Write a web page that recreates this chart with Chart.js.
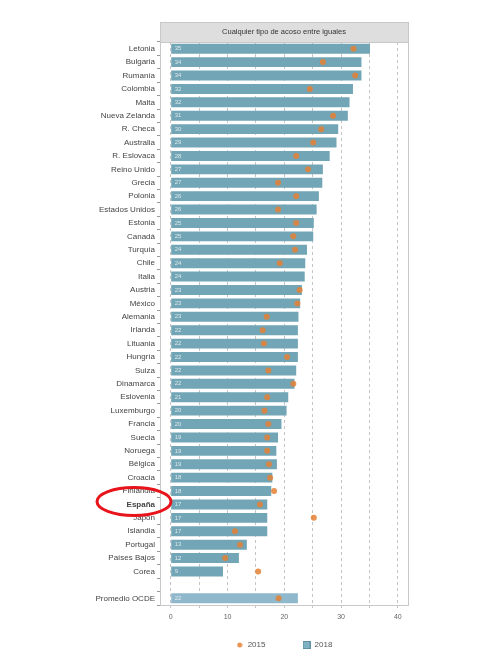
<!DOCTYPE html>
<html>
<head>
<meta charset="utf-8">
<script src="https://cdn.jsdelivr.net/npm/chart.js@4.4.0/dist/chart.umd.min.js"></script>
<style>
html, body { margin: 0; padding: 0; background: #fff; }
</style>
</head>
<body>
<canvas id="myChart" width="480" height="659"></canvas>
<script>
// datos
const paises = ["Letonia", "Bulgaria", "Rumanía", "Colombia", "Malta", "Nueva Zelanda", "R. Checa", "Australia",
    "R. Eslovaca", "Reino Unido", "Grecia", "Polonia", "Estados Unidos", "Estonia", "Canadá", "Turquía", "Chile",
    "Italia", "Austria", "México", "Alemania", "Irlanda", "Lituania", "Hungría", "Suiza", "Dinamarca", "Eslovenia",
    "Luxemburgo", "Francia", "Suecia", "Noruega", "Bélgica", "Croacia", "Finlandia", "España", "Japón", "Islandia",
    "Portugal", "Países Bajos", "Corea", "", "Promedio OCDE"];

const valores2018 = [35.1, 33.6, 33.6, 32.1, 31.5, 31.2, 29.5, 29.2, 28.0, 26.8, 26.7, 26.1, 25.7, 25.2, 25.1, 24.0,
    23.7, 23.6, 23.1, 22.8, 22.5, 22.4, 22.4, 22.4, 22.1, 21.8, 20.7, 20.4, 19.5, 18.9, 18.6, 18.7, 17.9, 17.7,
    17.0, 17.0, 17.0, 13.4, 12.0, 9.2, null, 22.4];

const valores2015 = [32.2, 26.8, 32.5, 24.5, null, 28.6, 26.5, 25.1, 22.1, 24.2, 18.9, 22.1, 18.9, 22.1, 21.6, 21.9,
    19.2, null, 22.7, 22.3, 16.9, 16.2, 16.4, 20.5, 17.2, 21.6, 17.0, 16.5, 17.2, 17.0, 17.0, 17.3, 17.5, 18.2,
    15.7, 25.2, 11.3, 12.2, 9.6, 15.4, null, 19.0];

const ticksX = [0, 5, 10, 15, 20, 25, 30, 35, 40];
const tituloPanel = "Cualquier tipo de acoso entre iguales";

const colorBarra = "#72a5b5";
const colorOCDE = "#8fb8cc";
const colorPunto = "rgba(228, 128, 52, 0.85)";

// símbolos pequeños para la leyenda
function simbolo(w, h, dibuja) {
    const c = document.createElement("canvas");
    c.width = w;
    c.height = h;
    dibuja(c.getContext("2d"));
    return c;
}
const simboloPunto = simbolo(6, 6, g => {
    g.fillStyle = colorPunto;
    g.beginPath();
    g.arc(3, 3, 2.5, 0, Math.PI * 2);
    g.fill();
});
const simboloBarra = simbolo(8, 8, g => {
    g.fillStyle = "#7fb0c4";
    g.fillRect(0, 0, 8, 8);
    g.strokeStyle = "#5f8fa3";
    g.strokeRect(0.5, 0.5, 7, 7);
});

// fondo, marco del panel y franja del título
const panelPlugin = {
    id: "panel",
    afterLayout(chart) {
        // leyenda centrada bajo el panel, no bajo todo el lienzo
        const a = chart.chartArea;
        const lg = chart.legend;
        const shift = (a.left + a.right) / 2 - (lg.left + lg.right) / 2;
        lg.left += shift;
        lg.right += shift;
    },
    beforeDraw(chart) {
        const { ctx } = chart;
        ctx.save();
        ctx.fillStyle = "#fff";
        ctx.fillRect(0, 0, chart.width, chart.height);
        ctx.restore();
    },
    afterDraw(chart) {
        const { ctx, chartArea: a } = chart;
        ctx.save();
        ctx.strokeStyle = "#c8c8c8";
        ctx.lineWidth = 1;
        ctx.strokeRect(a.left + 0.5, a.top + 0.5, a.right - a.left, a.bottom - a.top);
        // franja
        ctx.fillStyle = "#dedede";
        ctx.fillRect(a.left, a.top - 20, a.right - a.left, 20);
        ctx.strokeRect(a.left + 0.5, a.top - 19.5, a.right - a.left, 20);
        ctx.fillStyle = "#333";
        ctx.font = "7.5px 'Liberation Sans', Arial, sans-serif";
        ctx.textAlign = "center";
        ctx.textBaseline = "middle";
        ctx.fillText(tituloPanel, (a.left + a.right) / 2, a.top - 10);
        ctx.restore();
    }
};

// etiquetas blancas dentro de las barras
const etiquetasPlugin = {
    id: "etiquetas",
    afterDatasetsDraw(chart) {
        const { ctx } = chart;
        const meta = chart.getDatasetMeta(1);
        const x0 = chart.scales.x.getPixelForValue(0);
        ctx.save();
        ctx.fillStyle = "rgba(255,255,255,0.75)";
        ctx.font = "6px 'Liberation Sans', Arial, sans-serif";
        ctx.textBaseline = "middle";
        meta.data.forEach((bar, i) => {
            if (valores2018[i] == null) return;
            ctx.fillText(Math.round(valores2018[i]), x0 + 4, bar.y);
        });
        ctx.restore();
    }
};

// elipse roja alrededor de España
const elipsePlugin = {
    id: "elipse",
    afterDraw(chart) {
        const { ctx } = chart;
        const i = paises.indexOf("España");
        const y = chart.scales.y.getPixelForValue(i);
        ctx.save();
        ctx.strokeStyle = "#e8141b";
        ctx.lineWidth = 3;
        ctx.beginPath();
        ctx.ellipse(134, y - 3, 37, 14, 0, 0, Math.PI * 2);
        ctx.stroke();
        ctx.restore();
    }
};

const ctx = document.getElementById("myChart").getContext("2d");

new Chart(ctx, {
    type: "bar",
    data: {
        labels: paises,
        datasets: [
            {
                type: "line",
                label: "2015",
                data: valores2015,
                showLine: false,
                pointRadius: 3,
                pointHoverRadius: 3,
                pointStyle: "circle",
                pointBackgroundColor: colorPunto,
                pointBorderWidth: 0,
                backgroundColor: colorPunto,
                borderColor: colorPunto,
                borderWidth: 0
            },
            {
                label: "2018",
                data: valores2018,
                backgroundColor: c => c.index === paises.length - 1 ? colorOCDE : colorBarra,
                borderWidth: 0,
                barPercentage: 0.74,
                categoryPercentage: 1
            }
        ]
    },
    options: {
        indexAxis: "y",
        responsive: false,
        animation: false,
        layout: { padding: { top: 42, right: 72, left: 0, bottom: 0 } },
        scales: {
            x: {
                min: -1.9,
                max: 41.8,
                afterBuildTicks: s => { s.ticks = ticksX.map(v => ({ value: v })); },
                afterFit: s => { s.height = 30; },
                ticks: {
                    callback: v => v % 10 === 0 ? v : "",
                    color: "#666",
                    font: { size: 7, family: "'Liberation Sans', Arial, sans-serif" },
                    padding: 5,
                    autoSkip: false,
                    maxRotation: 0
                },
                grid: { color: "#b5b5b5", tickLength: 3, lineWidth: 0.8 },
                border: { display: false, dash: [3, 3] }
            },
            y: {
                afterFit: s => { s.width = 160; },
                ticks: {
                    color: "#444",
                    autoSkip: false,
                    padding: 2,
                    font: c => ({
                        size: 8,
                        family: "'Liberation Sans', Arial, sans-serif",
                        weight: paises[c.index] === "España" ? "bold" : "normal"
                    })
                },
                grid: { drawOnChartArea: false, tickLength: 3, color: "#999" },
                border: { display: false }
            }
        },
        plugins: {
            legend: {
                position: "bottom",
                labels: {
                    usePointStyle: true,
                    boxWidth: 8,
                    boxHeight: 8,
                    padding: 6,
                    color: "#555",
                    font: { size: 8, family: "'Liberation Sans', Arial, sans-serif" },
                    generateLabels: chart => {
                        const items = Chart.defaults.plugins.legend.labels.generateLabels(chart);
                        items.forEach(it => {
                            it.pointStyle = it.datasetIndex === 0 ? simboloPunto : simboloBarra;
                            if (it.datasetIndex === 0) it.text = "2015              ";
                        });
                        return items;
                    }
                }
            },
            tooltip: { enabled: false }
        }
    },
    plugins: [panelPlugin, etiquetasPlugin, elipsePlugin]
});
</script>
</body>
</html>
